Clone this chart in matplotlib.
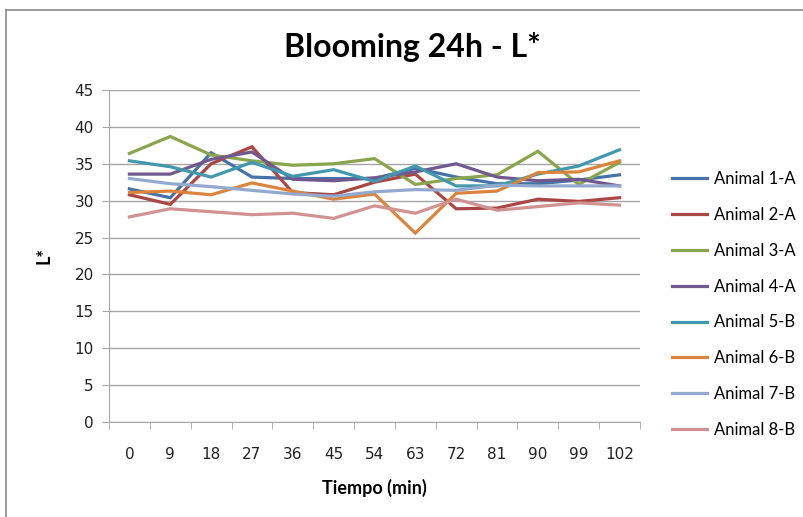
import numpy as np
import matplotlib.pyplot as plt
from matplotlib.lines import Line2D

# time points (min) and L* readings per animal
tiempo = [0, 9, 18, 27, 36, 45, 54, 63, 72, 81, 90, 99, 102]

animal_1a = [31.6, 30.4, 36.5, 33.2, 33.0, 33.0, 33.0, 34.4, 33.2, 32.3, 32.3, 32.8, 33.5]
animal_2a = [30.8, 29.5, 35.0, 37.3, 31.1, 30.8, 32.5, 33.6, 28.9, 29.0, 30.2, 29.9, 30.4]
animal_3a = [36.4, 38.7, 36.2, 35.4, 34.8, 35.0, 35.7, 32.2, 33.0, 33.5, 36.7, 32.2, 35.2]
animal_4a = [33.6, 33.6, 35.6, 36.6, 32.9, 32.7, 33.1, 33.9, 35.0, 33.2, 32.7, 32.9, 32.0]
animal_5b = [35.4, 34.6, 33.2, 35.2, 33.3, 34.2, 32.6, 34.7, 32.0, 32.0, 33.6, 34.7, 36.9]
animal_6b = [31.1, 31.3, 30.8, 32.4, 31.3, 30.2, 30.9, 25.6, 31.0, 31.3, 33.8, 33.9, 35.4]
animal_7b = [33.0, 32.3, 31.9, 31.4, 30.9, 30.6, 31.2, 31.5, 31.4, 32.1, 32.0, 32.0, 32.0]
animal_8b = [27.8, 28.9, 28.5, 28.1, 28.3, 27.6, 29.3, 28.3, 30.2, 28.7, 29.2, 29.7, 29.4]

labels = ["Animal 1-A", "Animal 2-A", "Animal 3-A", "Animal 4-A",
          "Animal 5-B", "Animal 6-B", "Animal 7-B", "Animal 8-B"]
series = [animal_1a, animal_2a, animal_3a, animal_4a,
          animal_5b, animal_6b, animal_7b, animal_8b]
colors = ["#4572A7", "#AA4643", "#89A54E", "#71588F",
          "#4198AF", "#DB843D", "#93A9CF", "#D19392"]

fig = plt.figure(figsize=(8.04, 5.17), dpi=100)
ax = fig.add_axes([109 / 804, 95 / 517, 531 / 804, 332 / 517])

x = np.arange(len(tiempo))
for vals, lab, col in zip(series, labels, colors):
    ax.plot(x, vals, color=col, lw=2.3, label=lab, solid_joinstyle="miter")

grid_col = "#a6a6a6"
ax.set_ylim(0, 45)
ax.set_yticks(np.arange(0, 50, 5))
ax.set_xlim(-0.5, len(tiempo) - 0.5)
ax.set_xticks(x)
ax.set_xticklabels([str(t) for t in tiempo])
ax.set_xticks(np.arange(-0.5, len(tiempo)), minor=True)
ax.tick_params(axis="x", which="major", length=0, pad=18, labelsize=11, labelcolor="#222222")
ax.tick_params(axis="x", which="minor", length=5, color=grid_col, direction="out")
ax.tick_params(axis="y", length=5, color=grid_col, pad=6, labelsize=11, labelcolor="#222222")
ax.yaxis.grid(True, color=grid_col, lw=1)
ax.set_axisbelow(True)
for s in ["top", "right"]:
    ax.spines[s].set_visible(False)
ax.spines["left"].set_color(grid_col)
ax.spines["bottom"].set_color(grid_col)

ax.set_xlabel("Tiempo (min)", fontfamily="Lato", fontweight="bold", fontsize=13, labelpad=12)
ax.set_ylabel("L*", fontfamily="Lato", fontweight="bold", fontsize=13, labelpad=16)

fig.text(412 / 804, 1 - 47 / 517, "Blooming 24h - L*", ha="center", va="center",
         fontfamily="Lato", fontweight="bold", fontsize=23)

fig.legend(loc="upper left", bbox_to_anchor=(657 / 804, 1 - 156 / 517),
           frameon=False, prop={"family": "Lato", "size": 12},
           handlelength=2.1, handletextpad=0.4, labelspacing=1.19)

# chart frame
fig.add_artist(Line2D([6 / 804, 6 / 804], [0, 1 - 10 / 517], color="#8c8c8c", lw=1.2))
fig.add_artist(Line2D([6 / 804, 1], [1 - 10 / 517, 1 - 10 / 517], color="#8c8c8c", lw=1.2))

fig.savefig("out.png", dpi=100)
